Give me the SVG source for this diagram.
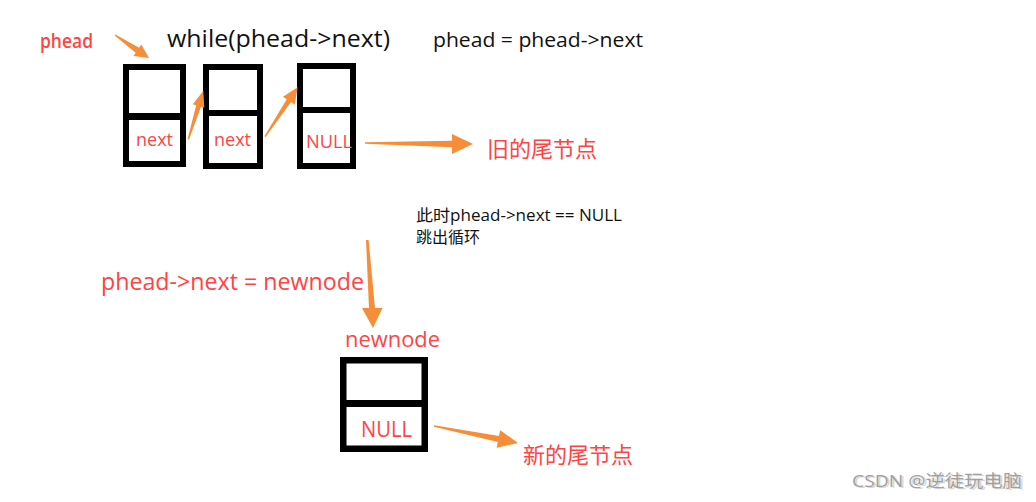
<svg xmlns="http://www.w3.org/2000/svg" width="1036" height="502" viewBox="0 0 1036 502">
<style>
.t{font-family:"Open Sans","Noto Sans CJK SC",sans-serif;}
.red{fill:#ff4444;}
.blk{fill:#111111;}
.box{fill:#ffffff;stroke:#000000;}
.arr{fill:#f68d38;}
.wm{fill:#a0a0a0;}
</style>
<rect width="1036" height="502" fill="#ffffff"/>

<g id="node1">
<rect class="box" x="126" y="67" width="57" height="97" stroke-width="6"/>
<rect x="123" y="113" width="63" height="7" fill="#000"/>
<text class="t red" x="136" y="146" font-size="19" textLength="37" lengthAdjust="spacingAndGlyphs">next</text>
</g>
<g id="node2">
<rect class="box" x="206" y="67" width="54" height="99" stroke-width="6"/>
<rect x="203" y="110" width="60" height="6" fill="#000"/>
<text class="t red" x="214" y="146" font-size="19" textLength="37" lengthAdjust="spacingAndGlyphs">next</text>
</g>
<g id="node3">
<rect class="box" x="300" y="66" width="53" height="100" stroke-width="6"/>
<rect x="297" y="107" width="59" height="6" fill="#000"/>
<text class="t red" x="306" y="148" font-size="19" textLength="46" lengthAdjust="spacingAndGlyphs">NULL</text>
</g>
<g id="newnode">
<rect class="box" x="343.25" y="360.25" width="81.5" height="88.5" stroke-width="6.5"/>
<rect x="340" y="400" width="88" height="7" fill="#000"/>
<text class="t red" x="361" y="437" font-size="21" textLength="51" lengthAdjust="spacingAndGlyphs">NULL</text>
</g>

<g id="labels">
<text class="t red" x="40" y="48" font-size="19" font-weight="600" textLength="53" lengthAdjust="spacingAndGlyphs">phead</text>
<text class="t blk" x="167" y="47" font-size="23" textLength="223" lengthAdjust="spacingAndGlyphs">while(phead-&gt;next)</text>
<text class="t blk" x="433" y="47" font-size="20" textLength="210" lengthAdjust="spacingAndGlyphs">phead = phead-&gt;next</text>
<text class="t red" x="487" y="157" font-size="22">旧的尾节点</text>
<text class="t blk" x="416" y="221" font-size="16" textLength="206" lengthAdjust="spacingAndGlyphs">此时phead-&gt;next == NULL</text>
<text class="t blk" x="416" y="243" font-size="16">跳出循环</text>
<text class="t red" x="101" y="290" font-size="23" textLength="263" lengthAdjust="spacingAndGlyphs">phead-&gt;next = newnode</text>
<text class="t red" x="345" y="347" font-size="22" textLength="95" lengthAdjust="spacingAndGlyphs">newnode</text>
<text class="t red" x="523" y="463" font-size="22">新的尾节点</text>
</g>

<g id="connectors">
<polygon class="arr" points="115.4,34.4 139.1,47.7 141.3,44.4 149,58 133.5,56.0 135.7,52.7 114.6,35.6"/>
<polygon class="arr" points="187.6,139.1 196.2,105.3 192.9,104.2 203.3,90.7 204.3,107.8 201.0,106.7 189.0,139.5"/>
<polygon class="arr" points="264.4,136.3 286.8,99.3 283.0,96.8 297.7,87.3 294.7,104.5 291.0,102.1 265.6,137.1"/>
<polygon class="arr" points="365,142.3 452,140.8 452,134 473,144 452,154 452,147.2 365,143.7"/>
<polygon class="arr" points="366,240 368.6,240 375,308 382.5,308 373,328 362,308 369,308"/>
<polygon class="arr" points="434.1,425.3 499.0,436.1 500.2,430.2 518,443 496.6,447.8 497.8,441.9 433.9,426.7"/>
</g>

<g id="watermark">
<text class="t" x="854" y="488" font-size="17" fill="#d8d8d8" textLength="170" lengthAdjust="spacingAndGlyphs">CSDN @逆徒玩电脑</text>
<text class="t wm" x="852" y="487" font-size="17" textLength="170" lengthAdjust="spacingAndGlyphs">CSDN @逆徒玩电脑</text>
</g>
</svg>
